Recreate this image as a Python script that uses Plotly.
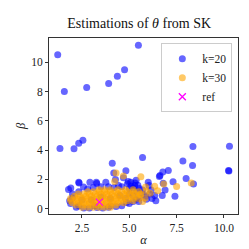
import plotly.graph_objects as go

# k=20 estimates (alpha, beta)
k20_alpha = [1.22, 5.48, 1.57, 2.75, 3.91, 4.37, 4.75, 1.34, 2.08, 2.33, 2.55,
             8.36, 10.29, 10.24, 10.26, 7.83, 8.34, 7.06, 6.77, 5.70, 4.10, 4.82,
             4.18, 6.62, 6.59, 8.00, 7.31, 8.39, 7.41, 6.74, 6.34, 6.89, 6.79,
             6.00, 5.28, 5.53, 6.15, 6.07, 5.53, 1.79, 2.00, 2.33, 2.35, 3.26,
             3.28, 3.76, 2.33, 2.58, 4.27, 4.69, 5.08, 5.36, 4.43, 4.00, 3.17,
             2.33, 4.85, 5.36, 5.86, 5.70, 6.04,
             2.20, 2.60, 2.90, 3.30, 3.60, 3.90, 4.30, 4.60, 5.00, 5.20, 5.50,
             1.85, 1.90, 2.00, 2.80, 3.10, 3.50, 3.90, 4.20, 4.60, 5.00, 5.40,
             5.70, 5.90, 6.20, 6.40, 4.90, 5.10, 5.30, 5.45, 4.95, 5.20,
             1.91, 2.92, 3.00, 3.50, 4.00, 4.50, 5.00, 4.80, 5.20, 2.50]
k20_beta = [10.50, 11.15, 8.00, 8.28, 8.55, 9.04, 9.49, 4.11, 4.10, 4.46, 4.67,
            4.24, 4.27, 2.61, 2.58, 3.25, 2.95, 2.61, 2.50, 3.50, 3.10, 2.59,
            2.44, 2.27, 2.20, 2.07, 1.84, 1.68, 0.85, 0.91, 0.91, 1.27, 1.73,
            1.80, 1.59, 1.38, 1.27, 1.01, 0.74, 1.31, 0.74, 1.80, 1.75, 1.80,
            1.72, 1.80, 1.16, 1.48, 2.00, 2.11, 1.80, 1.95, 1.59, 0.20, 0.20,
            0.20, 0.42, 0.64, 0.85, 1.27, 1.59,
            0.10, 0.05, 0.05, 0.08, 0.05, 0.10, 0.15, 0.20, 0.35, 0.50, 0.50,
            0.55, 0.35, 1.00, 1.35, 1.45, 1.50, 1.50, 1.45, 1.50, 1.40, 1.20,
            1.00, 0.65, 0.70, 0.55, 1.70, 1.55, 1.75, 1.60, 1.85, 1.40,
            1.42, 1.80, 0.60, 0.80, 0.70, 0.90, 1.00, 0.70, 0.90, 0.60]

# k=30 estimates (alpha, beta)
k30_alpha = [2.5, 2.8, 3.1, 3.4, 3.7, 4.0,
             2.2, 2.5, 2.8, 3.1, 3.4, 3.7, 4.0, 4.3,
             2.0, 2.3, 2.6, 2.9, 3.2, 3.5, 3.8, 4.1, 4.4, 4.7,
             1.9, 2.2, 2.5, 2.8, 3.1, 3.4, 3.7, 4.0, 4.3, 4.6, 4.9, 5.2,
             1.9, 2.2, 2.5, 2.8, 3.1, 3.4, 3.7, 4.0, 4.3, 4.6, 4.9, 5.2, 5.5,
             2.1, 2.4, 2.7, 3.0, 3.3, 3.6, 3.9, 4.2, 4.5, 4.8, 5.1, 5.4,
             2.3, 2.6, 2.9, 3.2, 3.5, 3.8, 4.1, 4.4, 4.7, 5.0, 5.3, 5.6,
             2.8, 3.1, 3.4, 3.7, 4.0, 4.3, 4.6, 4.9, 5.2, 5.5,
             3.4, 3.7, 4.0, 4.4, 4.8, 5.2,
             4.23, 4.30, 4.69, 5.61, 5.86, 6.34, 6.50, 6.82, 7.50, 8.27, 5.83,
             5.58, 6.10, 5.90, 5.70]
k30_beta = [0.10, 0.10, 0.10, 0.10, 0.10, 0.10,
            0.25, 0.25, 0.25, 0.25, 0.25, 0.25, 0.25, 0.25,
            0.40, 0.40, 0.40, 0.40, 0.40, 0.40, 0.40, 0.40, 0.40, 0.40,
            0.55, 0.55, 0.55, 0.55, 0.55, 0.55, 0.55, 0.55, 0.55, 0.55, 0.55, 0.55,
            0.70, 0.70, 0.70, 0.70, 0.70, 0.70, 0.70, 0.70, 0.70, 0.70, 0.70, 0.70, 0.70,
            0.85, 0.85, 0.85, 0.85, 0.85, 0.85, 0.85, 0.85, 0.85, 0.85, 0.85, 0.85,
            1.00, 1.00, 1.00, 1.00, 1.00, 1.00, 1.00, 1.00, 1.00, 1.00, 1.00, 1.00,
            1.15, 1.15, 1.15, 1.15, 1.15, 1.15, 1.15, 1.15, 1.15, 1.15,
            1.30, 1.30, 1.30, 1.30, 1.30, 1.30,
            1.85, 2.44, 2.23, 2.18, 1.48, 1.53, 1.22, 1.69, 1.52, 1.75, 0.74,
            0.95, 1.05, 1.20, 0.50]

ref_alpha = [3.42]
ref_beta = [0.45]

x_ticks = [2.5, 5.0, 7.5, 10.0]
x_ticklabels = ["2.5", "5.0", "7.5", "10.0"]
y_ticks = [0, 2, 4, 6, 8, 10]
y_ticklabels = ["0", "2", "4", "6", "8", "10"]

SERIF = "Liberation Serif"

fig = go.Figure()
fig.add_trace(go.Scatter(x=k20_alpha, y=k20_beta, mode="markers", name="k=20",
                         marker=dict(color="rgba(0,0,255,0.6)", size=7, line=dict(width=0))))
fig.add_trace(go.Scatter(x=k30_alpha, y=k30_beta, mode="markers", name="k=30",
                         marker=dict(color="rgba(255,165,0,0.6)", size=7, line=dict(width=0))))
fig.add_trace(go.Scatter(x=ref_alpha, y=ref_beta, mode="markers", name="ref",
                         marker=dict(symbol="x-thin-open", color="magenta", size=7,
                                     line=dict(color="magenta", width=1.3))))

axis_common = dict(showgrid=False, zeroline=False, showline=True, linecolor="#333",
                   linewidth=1, mirror=True, ticks="outside", ticklen=3,
                   tickcolor="#333", tickfont=dict(family=SERIF, size=11.5, color="#222"))

fig.update_layout(
    width=249, height=249,
    margin=dict(l=32, r=19, t=30, b=30),
    paper_bgcolor="white", plot_bgcolor="white",
    title=dict(text="Estimations of <i>θ</i> from SK", x=0.527, xanchor="center",
               y=0.918, yanchor="bottom",
               font=dict(family=SERIF, size=14, color="#111")),
    xaxis=dict(range=[0.76, 10.74], tickvals=x_ticks, ticktext=x_ticklabels,
               title=dict(text="<i>α</i>", font=dict(family=SERIF, size=12.5, color="#222"),
                          standoff=2), **axis_common),
    yaxis=dict(range=[-0.36, 11.65], tickvals=y_ticks, ticktext=y_ticklabels,
               title=dict(text="<i>β</i>", font=dict(family=SERIF, size=12.5, color="#222"),
                          standoff=2), **axis_common),
    legend=dict(x=0.97, y=0.97, xanchor="right", yanchor="top",
                bgcolor="rgba(255,255,255,0.8)", bordercolor="#ccc", borderwidth=1,
                font=dict(family=SERIF, size=11.5, color="#222"),
                itemwidth=30, tracegroupgap=0),
    showlegend=True,
)

fig.write_html("out.html")
